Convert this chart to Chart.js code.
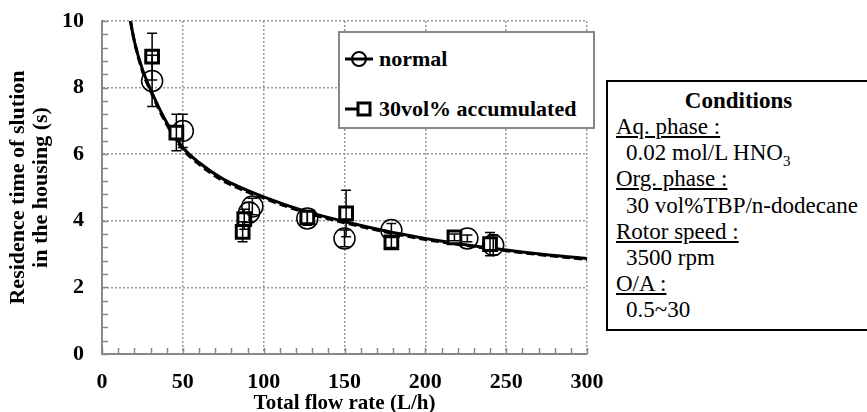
<!DOCTYPE html>
<html>
<head>
<meta charset="utf-8">
<script src="https://cdn.jsdelivr.net/npm/chart.js@4.4.1/dist/chart.umd.min.js"></script>
<style>
  html, body { margin: 0; padding: 0; background: #fff; }
  #wrap { position: relative; width: 867px; height: 412px; overflow: hidden; }
  #legendBox {
    position: absolute; left: 338px; top: 31px; width: 253px; height: 94px;
    border: 2px solid #888; background: #fff;
    font: bold 22px 'Liberation Serif', serif; color: #000;
  }
  .lg-row { position: absolute; left: 5px; height: 24px; display: flex; align-items: center; white-space: nowrap; }
  .lg-row svg { margin-right: 4px; }
  #condBox {
    position: absolute; left: 606px; top: 80px; width: 300px; height: 247px;
    border: 2px solid #000; background: #fff;
    font: 23px 'Liberation Serif', serif; color: #000; line-height: 26.2px;
  }
  #condBox .ttl { font-weight: bold; position: absolute; left: 0; width: 261px; text-align: center; top: 6px; }
  #condBox .rows { position: absolute; left: 8px; top: 32px; white-space: nowrap; }
  #condBox .lab { text-decoration: underline; }
  #condBox .val { padding-left: 10px; }
  sub { font-size: 15px; line-height: 0; }
</style>
</head>
<body>
<div id="wrap">
  <canvas id="myChart" width="867" height="412"></canvas>
  <div id="legendBox">
    <div class="lg-row" style="top:14px;">
      <svg width="30" height="22"><line x1="0" y1="11" x2="28" y2="11" stroke="#000" stroke-width="3"/><circle cx="14" cy="11" r="7" stroke="#000" stroke-width="2" fill="none"/></svg>normal
    </div>
    <div class="lg-row" style="top:64px;">
      <svg width="30" height="22"><line x1="0" y1="11" x2="14" y2="11" stroke="#000" stroke-width="3"/><rect x="13" y="5" width="12" height="12" stroke="#000" stroke-width="3" fill="#fff"/></svg>30vol% accumulated
    </div>
  </div>
  <div id="condBox">
    <div class="ttl">Conditions</div>
    <div class="rows">
      <div class="lab">Aq. phase :</div>
      <div class="val">0.02 mol/L HNO<sub>3</sub></div>
      <div class="lab">Org. phase :</div>
      <div class="val">30 vol%TBP/n-dodecane</div>
      <div class="lab">Rotor speed :</div>
      <div class="val">3500 rpm</div>
      <div class="lab">O/A :</div>
      <div class="val">0.5~30</div>
    </div>
  </div>
</div>
<script>
// 측정값 (normal)
const normalFlow = [31, 50, 91, 93, 127, 150, 179, 226, 242];
const normalTime = [8.2, 6.7, 4.25, 4.43, 4.07, 3.47, 3.72, 3.47, 3.27];
const normalErr  = [0.77, 0.5, 0.3, 0.25, 0.2, 0.25, 0.2, 0.1, 0.3];

// 측정값 (30vol% accumulated)
const accFlow = [31, 46, 87, 88, 127, 151, 179, 218, 240];
const accTime = [8.93, 6.65, 3.67, 4.05, 4.1, 4.22, 3.35, 3.5, 3.3];
const accErr  = [0.7, 0.55, 0.3, 0.3, 0.2, 0.7, 0.15, 0.1, 0.35];

// fitting curves
const fitFlow   = [15, 20, 25, 30, 40, 50, 60, 75, 100, 125, 150, 175, 200, 225, 250, 275, 300];
const fitNormal = [10.7, 9.4, 8.55, 7.95, 6.95, 6.2, 5.75, 5.25, 4.72, 4.3, 3.98, 3.7, 3.47, 3.28, 3.12, 2.98, 2.87];
const fitAcc    = [10.7, 9.4, 8.5, 7.9, 6.9, 6.15, 5.7, 5.2, 4.68, 4.26, 3.94, 3.67, 3.44, 3.26, 3.1, 2.96, 2.84];

const flowTicks = [0, 50, 100, 150, 200, 250, 300];
const timeTicks = [0, 2, 4, 6, 8, 10];

function pts(xs, ys) {
    return xs.map((x, i) => ({ x: x, y: ys[i] }));
}
function isMajor(v, list) {
    return list.some(t => Math.abs(t - v) < 1e-6);
}

// 에러바 + 안쪽 눈금
const extrasPlugin = {
    id: 'extras',
    afterDatasetsDraw(chart) {
        const ctx = chart.ctx;
        const xs = chart.scales.x, ys = chart.scales.y;
        ctx.save();
        ctx.strokeStyle = '#000';
        ctx.lineWidth = 1.5;
        [[normalFlow, normalTime, normalErr], [accFlow, accTime, accErr]].forEach(set => {
            set[0].forEach((f, i) => {
                const px = xs.getPixelForValue(f);
                const top = ys.getPixelForValue(set[1][i] + set[2][i]);
                const bot = ys.getPixelForValue(set[1][i] - set[2][i]);
                ctx.beginPath();
                ctx.moveTo(px, top); ctx.lineTo(px, bot);
                ctx.moveTo(px - 5, top); ctx.lineTo(px + 5, top);
                ctx.moveTo(px - 5, bot); ctx.lineTo(px + 5, bot);
                ctx.stroke();
            });
        });
        ctx.restore();
    },
    afterDraw(chart) {
        const ctx = chart.ctx;
        const xs = chart.scales.x, ys = chart.scales.y;
        const area = chart.chartArea;
        ctx.save();
        ctx.strokeStyle = '#888';
        ctx.lineWidth = 1.5;
        ctx.beginPath();
        xs.ticks.forEach(t => {
            const px = Math.round(xs.getPixelForValue(t.value)) + 0.5;
            ctx.moveTo(px, area.bottom); ctx.lineTo(px, area.bottom - 6);
        });
        ys.ticks.forEach(t => {
            const py = Math.round(ys.getPixelForValue(t.value)) + 0.5;
            ctx.moveTo(area.left, py); ctx.lineTo(area.left + 6, py);
        });
        ctx.stroke();
        ctx.restore();
    }
};

const tickFont = { family: 'Liberation Serif', size: 22, weight: 'bold' };

new Chart(document.getElementById('myChart').getContext('2d'), {
    data: {
        datasets: [
            {
                type: 'scatter', label: '30vol% accumulated', order: 0,
                data: pts(accFlow, accTime),
                pointStyle: 'rect', pointRadius: 9, borderWidth: 3,
                borderColor: '#000', backgroundColor: '#fff'
            },
            {
                type: 'scatter', label: 'normal', order: 1,
                data: pts(normalFlow, normalTime),
                pointStyle: 'circle', pointRadius: 10.5, borderWidth: 1.5,
                borderColor: '#000', backgroundColor: 'rgba(0,0,0,0)'
            },
            {
                type: 'line', label: 'fit accumulated', order: 2,
                data: pts(fitFlow, fitAcc),
                borderColor: '#000', borderWidth: 3, borderDash: [8, 4],
                pointRadius: 0, cubicInterpolationMode: 'monotone', fill: false
            },
            {
                type: 'line', label: 'fit normal', order: 3,
                data: pts(fitFlow, fitNormal),
                borderColor: '#000', borderWidth: 3,
                pointRadius: 0, cubicInterpolationMode: 'monotone', fill: false
            }
        ]
    },
    options: {
        responsive: false,
        animation: false,
        devicePixelRatio: 1,
        layout: { padding: { left: 0, right: 280, top: 21, bottom: 0 } },
        plugins: { legend: { display: false }, tooltip: { enabled: false } },
        scales: {
            x: {
                type: 'linear', min: 0, max: 300,
                afterFit: s => { s.height = 58; },
                ticks: {
                    stepSize: 10, autoSkip: false, maxRotation: 0,
                    color: '#000', font: tickFont, padding: 15,
                    callback: v => isMajor(v, flowTicks) ? String(v) : ''
                },
                grid: {
                    drawTicks: false, lineWidth: 1.5,
                    color: c => (c.tick && isMajor(c.tick.value, flowTicks)) ? '#999' : 'rgba(0,0,0,0)'
                },
                border: { color: '#888', width: 2, dash: [2, 2] },
                title: {
                    display: true, text: 'Total flow rate (L/h)', color: '#000',
                    font: { family: 'Liberation Serif', size: 21, weight: 'bold', lineHeight: 0.8 },
                    padding: 0
                }
            },
            y: {
                type: 'linear', min: 0, max: 10,
                afterFit: s => { s.width = 102; s.paddingTop = 0; s.paddingBottom = 0; },
                ticks: {
                    stepSize: 0.4, autoSkip: false,
                    color: '#000', font: tickFont, padding: 18,
                    callback: v => isMajor(v, timeTicks) ? String(Math.round(v)) : ''
                },
                grid: {
                    drawTicks: false, lineWidth: 1.5,
                    color: c => (c.tick && isMajor(c.tick.value, timeTicks)) ? '#999' : 'rgba(0,0,0,0)'
                },
                border: { color: '#888', width: 2, dash: [2, 2] },
                title: {
                    display: true, text: ['Residence time of slution', 'in the housing (s)'], color: '#000',
                    font: { family: 'Liberation Serif', size: 22, weight: 'bold', lineHeight: 1.05 },
                    padding: { top: 7, bottom: 0 }
                }
            }
        }
    },
    plugins: [extrasPlugin]
});
</script>
</body>
</html>
